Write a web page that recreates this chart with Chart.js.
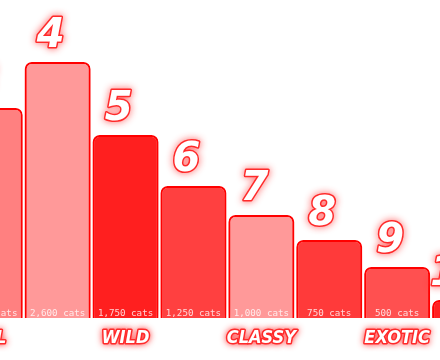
<!DOCTYPE html>
<html>
<head>
<meta charset="utf-8">
<script src="https://cdn.jsdelivr.net/npm/chart.js@4/dist/chart.umd.min.js"></script>
<style>
  html, body { margin: 0; padding: 0; width: 440px; height: 360px; overflow: hidden; background: #ffffff; }
  #wrap { position: absolute; left: -180px; top: 0; width: 679px; height: 360px; }
</style>
</head>
<body>
<div id="wrap"><canvas id="c"></canvas></div>
<script>
// ---- data ----
const categories = ['CUTE', 'FLUFFY', 'PAL', 'LAZY', 'WILD', 'SMART', 'CLASSY', 'SHY', 'EXOTIC', 'RARE'];
const ranks = ['1', '2', '3', '4', '5', '6', '7', '8', '9', '10'];
const barScores = [240, 225, 210, 256, 183, 132, 103, 78, 51, 18];
const catCounts = ['3,500', '3,000', '2,200', '2,600', '1,750', '1,250', '1,000', '750', '500', '250'];
const barColors = ['#ff6b6b', '#ff8a8a', '#ff8080', '#ff9999', '#ff1f1f', '#ff4040', '#ff9999', '#ff3a3a', '#ff5050', '#ff2222'];

function outlinedText(ctx, text, x, y, font, lw, blur) {
  ctx.save();
  ctx.font = font;
  ctx.textAlign = 'center';
  ctx.textBaseline = 'alphabetic';
  ctx.lineJoin = 'round';
  ctx.shadowColor = 'rgba(255,40,40,0.9)';
  ctx.shadowBlur = blur;
  ctx.strokeStyle = '#ff2a2a';
  ctx.lineWidth = lw;
  ctx.strokeText(text, x, y);
  ctx.shadowBlur = 0;
  ctx.shadowColor = 'transparent';
  ctx.fillStyle = '#ffffff';
  ctx.fillText(text, x, y);
  ctx.restore();
}

const neonPlugin = {
  id: 'neon',
  beforeDatasetsDraw(chart) {
    const ctx = chart.ctx;
    ctx.save();
    ctx.shadowColor = 'rgba(255,0,0,0.9)';
    ctx.shadowBlur = 14;
  },
  afterDatasetsDraw(chart) {
    const ctx = chart.ctx;
    ctx.restore();
    const meta = chart.getDatasetMeta(0);
    const xScale = chart.scales.x;
    meta.data.forEach((bar, i) => {
      const p = bar.getProps(['x', 'y', 'base'], true);
      // count text inside bar
      ctx.save();
      ctx.font = '9.2px "DejaVu Sans Mono", monospace';
      ctx.textAlign = 'center';
      ctx.textBaseline = 'alphabetic';
      ctx.fillStyle = 'rgba(255,255,255,0.8)';
      ctx.fillText(catCounts[i] + ' cats', p.x, p.base - 2);
      ctx.restore();
      // rank number above bar
      outlinedText(ctx, ranks[i], p.x - 7, p.y - 15, 'bold italic 40px "DejaVu Sans", sans-serif', 3, 7);
      // category labels (every other)
      if (i % 2 === 0) {
        const lx = xScale.getPixelForValue(i);
        outlinedText(ctx, categories[i], lx, chart.chartArea.bottom + 25,
          'bold italic 18px "DejaVu Sans Condensed", "Liberation Sans Narrow", sans-serif', 3, 6);
      }
    });
  }
};

new Chart(document.getElementById('c'), {
  type: 'bar',
  data: {
    labels: categories,
    datasets: [{
      data: barScores,
      backgroundColor: barColors,
      borderColor: '#ff0000',
      borderWidth: 2,
      borderRadius: { topLeft: 7, topRight: 7, bottomLeft: 0, bottomRight: 0 },
      borderSkipped: 'bottom',
      barPercentage: 0.97,
      categoryPercentage: 1.0,
      clip: false
    }]
  },
  options: {
    responsive: true,
    maintainAspectRatio: false,
    animation: false,
    layout: { padding: { top: 0, bottom: 42, left: 0, right: 0 } },
    plugins: { legend: { display: false }, tooltip: { enabled: false } },
    scales: {
      x: { display: false },
      y: { display: false, min: 0, max: 318 }
    }
  },
  plugins: [neonPlugin]
});
</script>
</body>
</html>
